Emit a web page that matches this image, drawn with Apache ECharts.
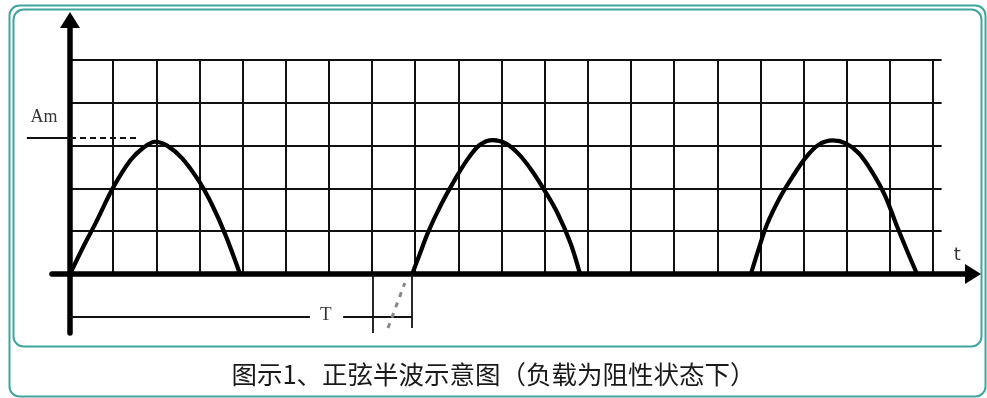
<!DOCTYPE html>
<html>
<head>
<meta charset="utf-8">
<script src="https://cdn.jsdelivr.net/npm/echarts@6/dist/echarts.min.js"></script>
<style>
  html, body { margin: 0; padding: 0; background: #fff; }
  #chart { width: 987px; height: 398px; }
</style>
</head>
<body>
<div id="chart"></div>
<script>
// wave samples: t in grid columns, v in grid rows
const hump1T = [0, 0.3, 0.6, 1.0, 1.4, 1.7, 1.97, 2.25, 2.6, 3.0, 3.3, 3.6, 3.94];
const hump1V = [0, 0.62, 1.2, 2.02, 2.66, 2.95, 3.09, 3.0, 2.7, 2.15, 1.6, 0.92, 0];
const hump2T = [7.93, 8.1, 8.3, 8.6, 8.9, 9.2, 9.5, 9.8, 10.1, 10.4, 10.7, 11.0, 11.3, 11.6, 11.82];
const hump2V = [0, 0.45, 0.98, 1.62, 2.17, 2.66, 3.02, 3.13, 3.05, 2.8, 2.42, 1.95, 1.42, 0.72, 0];
const hump3T = [15.78, 15.95, 16.15, 16.45, 16.75, 17.05, 17.35, 17.68, 17.98, 18.28, 18.58, 18.88, 19.18, 19.45, 19.63];
const hump3V = [0, 0.55, 1.15, 1.78, 2.28, 2.72, 3.02, 3.12, 3.05, 2.82, 2.4, 1.85, 1.08, 0.42, 0];

// annotations (same units)
const amLevel = 3.18;
const amTickFrom = -1.0;
const amDashTo = 1.55;
const periodY = -1.0;
const periodEnd = 7.93;
const periodGap = [5.56, 6.33];
const markTicks = [[7.02, -1.38], [7.93, -1.26]];
const squiggle = [[7.37, -1.26], [7.76, -0.21]];
const labelText = ['Am', 't', 'T'];
const labelX = [-0.6, 20.56, 5.93];
const labelY = [3.67, 0.44, -0.96];

const gridCols = 20.2;
const gridRows = 5;

// pixel layout of the drawing
const ox = 70, oy = 274, cellW = 43.15, cellH = 42.8, W = 987, H = 398;
const teal = '#3fa59e';

function pairs(xs, ys) {
  return xs.map((x, i) => [x, ys[i]]);
}

const chart = echarts.init(document.getElementById('chart'));

const hidden = {
  axisLine: { show: false },
  axisTick: { show: false },
  axisLabel: { show: false },
  splitLine: { show: false }
};

const labelStyles = {
  Am: { fontFamily: 'Liberation Serif', fontSize: 18 },
  t: { fontFamily: 'DejaVu Sans', fontSize: 18 },
  T: { fontFamily: 'Liberation Serif', fontSize: 19 }
};

const humpSeries = [[hump1T, hump1V], [hump2T, hump2V], [hump3T, hump3V]].map(h => ({
  type: 'line',
  xAxisIndex: 0,
  yAxisIndex: 0,
  data: pairs(h[0], h[1]),
  smooth: 0.35,
  symbol: 'none',
  clip: false,
  lineStyle: { color: '#000', width: 4.2 },
  z: 5
}));

const axisArrow = {
  show: true,
  onZero: true,
  symbol: ['none', 'triangle'],
  symbolSize: [20, 16],
  lineStyle: { color: '#000', width: 5.5 }
};

const gridLine = { color: '#111', width: 2 };

chart.setOption({
  animation: false,
  title: {
    text: '图示1、正弦半波示意图（负载为阻性状态下）',
    left: 'center',
    top: 362,
    padding: 0,
    textStyle: { fontFamily: 'Noto Sans CJK SC', fontSize: 25.5, fontWeight: 'normal', color: '#1a1a1a' }
  },
  graphic: [
    { type: 'rect', silent: true, z: -10,
      shape: { x: 9.5, y: 5.5, width: 976, height: 391, r: 10 },
      style: { fill: 'none', stroke: teal, lineWidth: 2 } },
    { type: 'rect', silent: true, z: -10,
      shape: { x: 13.5, y: 9.5, width: 968, height: 337, r: 10 },
      style: { fill: 'none', stroke: teal, lineWidth: 2 } }
  ],
  grid: [
    // squared paper
    { left: ox, top: oy - gridRows * cellH, width: gridCols * cellW, height: gridRows * cellH, outerBoundsMode: 'none' },
    // axes with arrows
    { left: 52, right: W - 973, top: 20, bottom: H - 333, outerBoundsMode: 'none' },
    // annotation layer over the whole canvas
    { left: 0, right: 0, top: 0, bottom: 0, outerBoundsMode: 'none' }
  ],
  xAxis: [
    { type: 'value', gridIndex: 0, min: 0, max: gridCols, interval: 1,
      axisLine: { show: false }, axisTick: { show: false }, axisLabel: { show: false },
      splitLine: { show: true, showMinLine: false, showMaxLine: false, lineStyle: gridLine } },
    { type: 'value', gridIndex: 1, min: (52 - ox) / cellW, max: (973 - ox) / cellW,
      axisLine: axisArrow, axisTick: { show: false }, axisLabel: { show: false }, splitLine: { show: false } },
    Object.assign({ type: 'value', gridIndex: 2, min: -ox / cellW, max: (W - ox) / cellW }, hidden)
  ],
  yAxis: [
    { type: 'value', gridIndex: 0, min: 0, max: gridRows, interval: 1,
      axisLine: { show: false }, axisTick: { show: false }, axisLabel: { show: false },
      splitLine: { show: true, showMinLine: false, showMaxLine: true, lineStyle: gridLine } },
    { type: 'value', gridIndex: 1, min: -(333 - oy) / cellH, max: (oy - 20) / cellH,
      axisLine: axisArrow, axisTick: { show: false }, axisLabel: { show: false }, splitLine: { show: false } },
    Object.assign({ type: 'value', gridIndex: 2, min: -(H - oy) / cellH, max: oy / cellH }, hidden)
  ],
  series: humpSeries.concat([
    {
      type: 'lines',
      coordinateSystem: 'cartesian2d',
      xAxisIndex: 2,
      yAxisIndex: 2,
      silent: true,
      lineStyle: { color: '#111', width: 1.8, opacity: 1 },
      data: [
        { coords: [[amTickFrom, amLevel], [0, amLevel]] },
        { coords: [[0, amLevel], [amDashTo, amLevel]], lineStyle: { type: [6, 4] } },
        { coords: [[0, periodY], [periodGap[0], periodY]] },
        { coords: [[periodGap[1], periodY], [periodEnd, periodY]] },
        { coords: [[markTicks[0][0], 0], markTicks[0]] },
        { coords: [[markTicks[1][0], 0], markTicks[1]] },
        { coords: squiggle, lineStyle: { color: '#888', width: 3, type: [5, 6] } }
      ],
      z: 4
    },
    {
      type: 'scatter',
      xAxisIndex: 2,
      yAxisIndex: 2,
      symbolSize: 1,
      itemStyle: { color: 'rgba(0,0,0,0)' },
      silent: true,
      data: labelText.map((s, i) => ({
        value: [labelX[i], labelY[i]],
        label: Object.assign({
          show: true, position: 'inside', formatter: s, color: '#000'
        }, labelStyles[s])
      })),
      z: 6
    }
  ])
});
</script>
</body>
</html>
